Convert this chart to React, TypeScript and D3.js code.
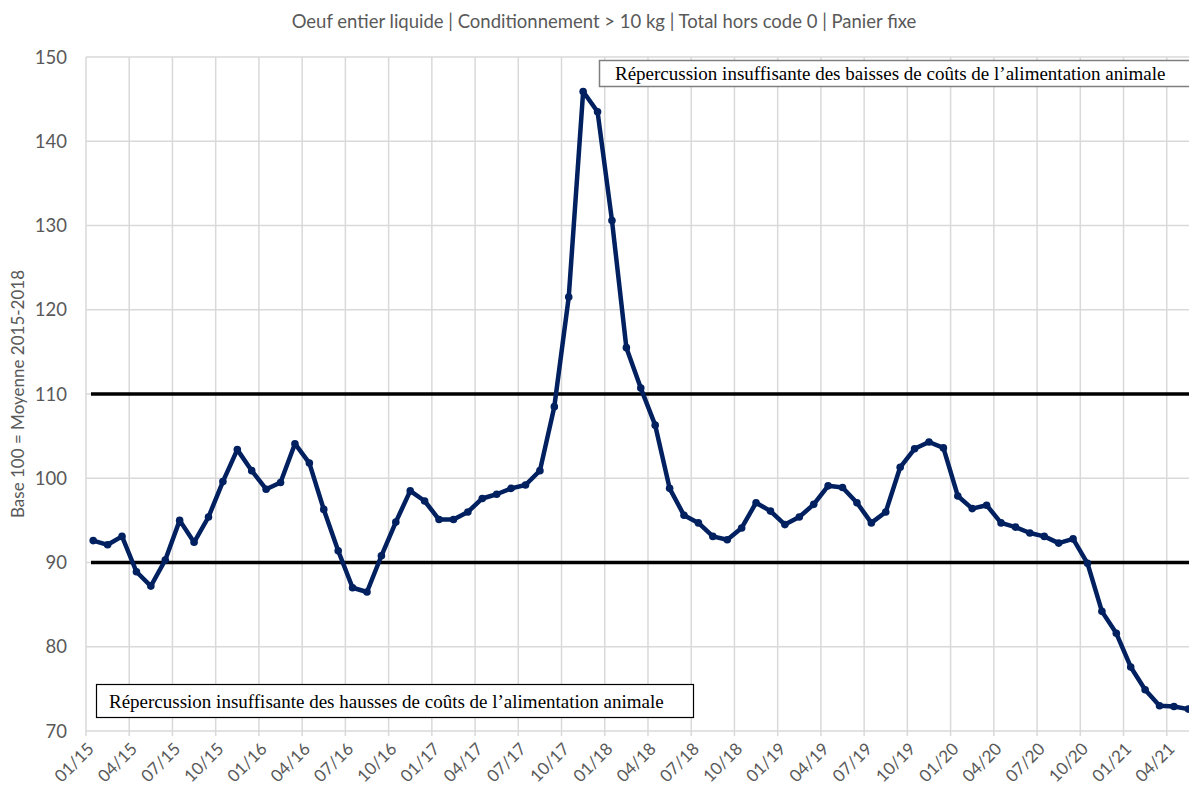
import React from 'react';
import * as d3 from 'd3';

// monthly index, Jan 2015 -> May 2021
const months: string[] = [];
for (let y = 15; y <= 21; y++) {
  for (let m = 1; m <= 12; m++) {
    if (y === 21 && m > 5) break;
    months.push(`${String(m).padStart(2, '0')}/${y}`);
  }
}

const values = [
  92.6, 92.1, 93.1, 88.9, 87.2, 90.3, 95.0, 92.4, 95.4, 99.6, 103.4, 100.9,
  98.7, 99.5, 104.1, 101.8, 96.3, 91.4, 87.0, 86.5, 90.8, 94.8, 98.5, 97.3,
  95.1, 95.1, 96.0, 97.6, 98.1, 98.8, 99.2, 100.9, 108.5, 121.5, 145.9, 143.5,
  130.6, 115.5, 110.7, 106.3, 98.8, 95.6, 94.7, 93.1, 92.7, 94.1, 97.1, 96.1,
  94.5, 95.4, 96.9, 99.1, 98.9, 97.1, 94.7, 96.0, 101.3, 103.5, 104.3, 103.6,
  97.9, 96.4, 96.8, 94.7, 94.2, 93.5, 93.1, 92.3, 92.8, 89.9, 84.2, 81.6,
  77.6, 74.9, 73.0, 72.9, 72.6,
];

const yTicks = [70, 80, 90, 100, 110, 120, 130, 140, 150];
const thresholds = [90, 110];

const title = 'Oeuf entier liquide  | Conditionnement > 10 kg | Total hors code 0 | Panier fixe';
const yLabel = 'Base 100 = Moyenne 2015-2018';
const noteTop = 'Répercussion insuffisante des baisses de coûts de l’alimentation animale';
const noteBottom = 'Répercussion insuffisante des hausses de coûts de l’alimentation animale';

const W = 1189;
const H = 794;
const gray = '#595959';
const navy = '#002060';

export default function App() {
  const left = 86;
  const step = 14.41;
  const x = d3.scaleBand<string>()
    .domain(months)
    .range([left, left + months.length * step])
    .padding(0);
  const y = d3.scaleLinear().domain([70, 150]).range([731, 57]);
  const cx = (i: number) => (x(months[i]) as number) + x.bandwidth() / 2;

  const line = d3.line<number>()
    .x((_, i) => cx(i))
    .y((d) => y(d));

  const tickMonths = months.filter((_, i) => i % 3 === 0);
  const sans = 'Lato, "Open Sans", sans-serif';
  const serif = '"Liberation Serif", "DejaVu Serif", serif';

  return (
    <svg width={W} height={H} style={{ position: 'absolute', left: 0, top: 0, background: '#fff' }}>
      <rect width={W} height={H} fill="#fff" />
      <text x={604} y={28} textAnchor="middle" fontFamily={sans} fontSize={18.5} fill={gray}>
        {title}
      </text>

      {/* grid */}
      {yTicks.map((t) => (
        <line key={'h' + t} x1={left} x2={W} y1={y(t)} y2={y(t)} stroke="#d9d9d9" strokeWidth={1.5} />
      ))}
      {tickMonths.map((m) => (
        <line key={'v' + m} x1={x(m)} x2={x(m)} y1={y(150)} y2={y(70) + 5} stroke="#d9d9d9" strokeWidth={1.5} />
      ))}

      {/* y ticks */}
      {yTicks.map((t) => (
        <text key={'yl' + t} x={67} y={y(t) + 6.5} textAnchor="end" fontFamily={sans} fontSize={18.5} fill={gray}>
          {t}
        </text>
      ))}
      <text
        transform={`translate(24,${(y(70) + y(150)) / 2}) rotate(-90)`}
        textAnchor="middle"
        fontFamily={sans}
        fontSize={17}
        fill={gray}
      >
        {yLabel}
      </text>

      {/* x ticks */}
      {tickMonths.map((m) => (
        <text
          key={'xl' + m}
          transform={`translate(${(x(m) as number) + 9},${y(70) + 19}) rotate(-45)`}
          textAnchor="end"
          fontFamily={sans}
          fontSize={17}
          fill={gray}
        >
          {m}
        </text>
      ))}

      {/* threshold lines */}
      {thresholds.map((t) => (
        <line key={'th' + t} x1={91} x2={W} y1={y(t)} y2={y(t)} stroke="#000" strokeWidth={3.5} />
      ))}

      {/* series */}
      <path d={line(values) as string} fill="none" stroke={navy} strokeWidth={4.5} strokeLinejoin="round" />
      {values.map((v, i) => (
        <circle key={'p' + i} cx={cx(i)} cy={y(v)} r={3.8} fill={navy} />
      ))}

      {/* notes */}
      <rect x={599.5} y={60.5} width={600} height={26} fill="#fff" stroke="#7f7f7f" strokeWidth={1.5} />
      <text x={615} y={80} fontFamily={serif} fontSize={19} fill="#000">
        {noteTop}
      </text>
      <rect x={96.5} y={684.5} width={597} height={33} fill="#fff" stroke="#000" strokeWidth={1.2} />
      <text x={109} y={708} fontFamily={serif} fontSize={19} fill="#000">
        {noteBottom}
      </text>
    </svg>
  );
}
